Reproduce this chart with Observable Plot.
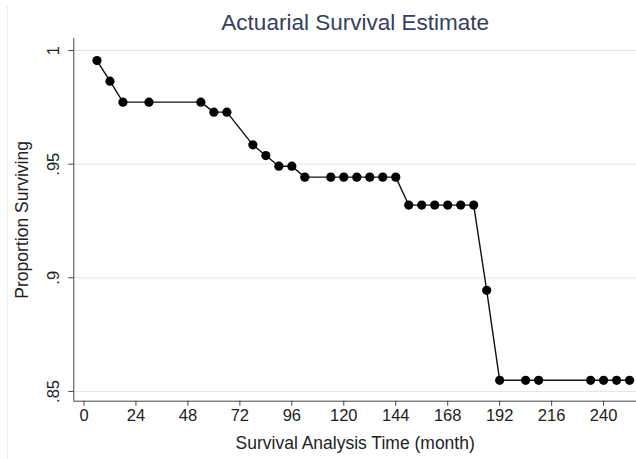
<!DOCTYPE html>
<html><head><meta charset="utf-8">
<script src="https://cdn.jsdelivr.net/npm/d3@7"></script>
<script src="https://cdn.jsdelivr.net/npm/@observablehq/plot@0.6"></script>
<style>
html,body{margin:0;padding:0;background:#fff;}
#chart{position:relative;width:636px;height:459px;}
#chart svg{display:block;}
#edge{position:absolute;left:7px;top:6px;width:0;height:453px;border-left:1px solid #ececec;}
</style></head><body><div id="chart"><div id="edge"></div></div>
<script>
const months = [6,12,18,30,54,60,66,78,84,90,96,102,114,120,126,132,138,144,150,156,162,168,174,180,186,192,204,210,234,240,246,252];
const survival = [0.9956,0.9865,0.9773,0.9773,0.9773,0.9729,0.9729,0.9585,0.9538,0.9491,0.9491,0.9443,0.9443,0.9443,0.9443,0.9443,0.9443,0.9443,0.9320,0.9320,0.9320,0.9320,0.9320,0.9320,0.8945,0.8549,0.8549,0.8549,0.8549,0.8549,0.8549,0.8549];
const xTicks = [0,24,48,72,96,120,144,168,192,216,240];
const yTicks = [0.85,0.9,0.95,1];
const yTickLabels = [".85",".9",".95","1"];
const title = "Actuarial Survival Estimate";
const xLabel = "Survival Analysis Time (month)";
const yLabel = "Proportion Surviving";

const data = months.map((m,i)=>({month:m, surv:survival[i]}));
const xDomain = [-4.7,255.2];
const yDomain = [0.8457,1.0053];
const font = "'Liberation Sans', Arial, sans-serif";
const ink = "#222";

const chart = Plot.plot({
  width:636, height:459,
  marginLeft:73.3, marginRight:0, marginTop:38, marginBottom:58.3,
  style:{fontFamily:font, background:"transparent", overflow:"visible"},
  x:{domain:xDomain},
  y:{domain:yDomain},
  marks:[
    Plot.gridY(yTicks,{stroke:"#dde7e7", strokeOpacity:1, strokeWidth:1}),
    Plot.ruleY([yDomain[0]],{stroke:"#444", strokeWidth:1}),
    Plot.ruleX([xDomain[0]],{stroke:"#444", strokeWidth:1}),
    Plot.axisX(xTicks,{tickSize:5, tickPadding:3, fontSize:16.5, color:ink, stroke:"#444", label:null}),
    Plot.axisY(yTicks,{tickSize:5, tickFormat:()=>"", stroke:"#444", label:null}),
    Plot.text(yTicks,{y:d=>d, text:(d,i)=>yTickLabels[i], frameAnchor:"left", dx:-20, rotate:-90, textAnchor:"middle", lineAnchor:"middle", fontSize:16.5, fill:ink}),
    Plot.text([xLabel],{text:d=>d, frameAnchor:"bottom", dy:42.3, textAnchor:"middle", lineAnchor:"middle", fontSize:17.5, fill:ink}),
    Plot.text([yLabel],{text:d=>d, frameAnchor:"left", dx:-51.3, rotate:-90, textAnchor:"middle", lineAnchor:"middle", fontSize:17.5, fill:ink}),
    Plot.text([title],{text:d=>d, frameAnchor:"top", dy:-15.5, textAnchor:"middle", lineAnchor:"middle", fontSize:22.5, fill:"#34405f"}),
    Plot.line(data,{x:"month", y:"surv", stroke:"#111", strokeWidth:1.4}),
    Plot.dot(data,{x:"month", y:"surv", r:4.6, fill:"#000", stroke:"none"})
  ]
});
document.getElementById("chart").appendChild(chart);
</script></body></html>
